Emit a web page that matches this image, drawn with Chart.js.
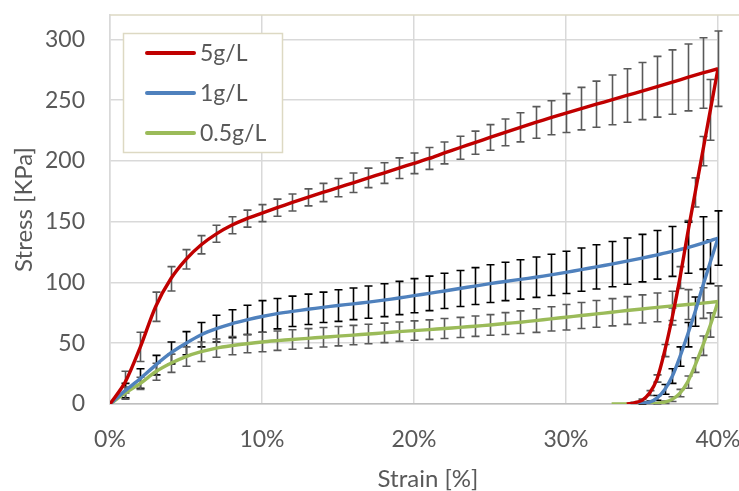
<!DOCTYPE html>
<html>
<head>
<meta charset="utf-8">
<script src="https://cdn.jsdelivr.net/npm/chart.js@4.4.1/dist/chart.umd.min.js"></script>
<style>
  html, body { margin: 0; padding: 0; background: #fff; overflow: hidden; }
  canvas { display: block; }
</style>
</head>
<body>
<canvas id="chart" width="739" height="491"></canvas>
<script>
// loading curve, one point per 1% strain
const strainLoad = [0, 1, 2, 3, 4, 5, 6, 7, 8, 9, 10, 11, 12, 13, 14, 15, 16, 17, 18, 19, 20,
  21, 22, 23, 24, 25, 26, 27, 28, 29, 30, 31, 32, 33, 34, 35, 36, 37, 38, 39, 40];

const load5 = [0, 18, 47, 80, 103, 119, 131, 140, 147, 152.5, 157, 161.5, 165.8, 170, 174, 178, 182, 186, 190, 194, 198,
  202, 206.5, 210.8, 215, 219.3, 223.5, 227.6, 231.6, 235.5, 239.3, 243, 246.6, 250.2, 253.8, 257.4, 261, 264.8, 268.6, 272.3, 275.8];
const loadErr5 = [0, 9, 12, 12, 10, 8, 7.5, 7, 7, 7, 7, 7, 7, 7, 7.5, 7.5, 8, 8, 8.5, 8.5, 8.5,
  9, 9, 9.5, 9.5, 10.5, 11, 12, 13, 14, 16, 17.5, 19, 20.5, 22, 23.5, 25, 26.5, 27.5, 29, 31];

const load1 = [0, 11, 21, 32, 42, 50, 57, 62, 66, 69.2, 72, 74.3, 76.2, 77.9, 79.5, 81, 82.4, 83.8, 85.4, 87.2, 89.1,
  91, 93, 95, 97, 99, 100.8, 102.5, 104.3, 106.2, 108.3, 110.5, 112.8, 115.1, 117.5, 120, 122.7, 125.5, 128.6, 132.3, 136.5];
const loadErr1 = [0, 6, 8, 8, 9, 9.5, 10, 11, 11.5, 12, 13, 12.5, 12.5, 12.5, 12.5, 13, 13, 13.3, 13.5, 13.7, 14,
  14.2, 14.5, 14.8, 15.2, 15.5, 15.8, 16.2, 16.6, 17, 17.4, 17.8, 18.2, 18.6, 19, 19.5, 20, 20.5, 21, 21.7, 22.4];

const load05 = [0, 9, 17, 26.5, 33.5, 39, 43, 46, 48, 49.6, 51, 52.1, 53.1, 54, 54.9, 55.8, 56.7, 57.6, 58.5, 59.5, 60.4,
  61.2, 62.1, 63, 64, 65, 66.2, 67.3, 68.6, 70, 71.4, 72.8, 74.1, 75.5, 76.9, 78.2, 79.5, 80.7, 81.8, 83, 84.3];
const loadErr05 = [0, 5, 5, 7, 7.5, 8, 8, 7.5, 7.5, 7.5, 8, 8, 8, 8, 8, 8, 8, 8, 8, 8, 8,
  8, 8.2, 8.3, 8.4, 8.5, 9, 9.3, 9.7, 10, 10.5, 10.7, 11, 11.2, 11.4, 11.6, 11.8, 12, 12.3, 12.6, 12.9];

// unloading curves (listed by increasing strain)
const strainUnload5 = [34, 34.5, 35, 35.5, 36, 36.5, 37, 37.5, 38, 38.5, 39, 39.5, 40];
const unload5 = [0, 1, 3, 9, 21, 44, 72, 104, 140, 174, 208, 242, 275.8];
const unloadErr5 = [0, 0.5, 1, 2, 3, 5, 7, 9, 11, 12, 12, 25, 0];

const strainUnload1 = [34.5, 35, 35.5, 36, 36.5, 37, 37.5, 38, 38.5, 39, 39.5, 40];
const unload1 = [0, 0.5, 1.5, 5, 12, 23, 39, 57, 76, 97, 117, 136.5];
const unloadErr1 = [0, 0.5, 1, 2, 4, 6, 8, 10, 12, 14, 18, 0];

const strainUnload05 = [33, 33.5, 34, 34.5, 35, 35.5, 36, 36.5, 37, 37.5, 38, 38.5, 39, 39.5, 40];
const unload05 = [0, 0, 0, 0, 0, 0, 0.5, 1.5, 4, 9, 18, 32, 48, 65, 84.3];
const unloadErr05 = [0, 0, 0, 0, 0, 0, 0.5, 1, 2, 3, 5, 6, 8, 10, 0];

const seriesNames = ['5g/L', '1g/L', '0.5g/L'];
const seriesColors = ['#C00000', '#4F81BD', '#9BBB59'];
const errColors = ['#595959', '#000000', '#595959'];

const yTicks = [0, 50, 100, 150, 200, 250, 300];
const xTitle = 'Strain [%]';
const yTitle = 'Stress [KPa]';

function pts(xs, ys) {
  return xs.map((x, i) => ({ x: x, y: ys[i] }));
}

function makeSet(idx, xs, ys, errs) {
  return {
    label: seriesNames[idx],
    data: pts(xs, ys),
    errors: errs,
    errColor: errColors[idx],
    borderColor: seriesColors[idx],
    backgroundColor: seriesColors[idx],
    borderWidth: 3.4,
    pointRadius: 0,
    fill: false,
    tension: 0.3,
  };
}

const textColor = '#595959';
const fontFamily = 'Lato, "Open Sans", sans-serif';

// error bars drawn under the curves
const errorBars = {
  id: 'errorBars',
  beforeDatasetsDraw(chart) {
    const ctx = chart.ctx;
    const xs = chart.scales.x;
    const ys = chart.scales.y;
    ctx.save();
    chart.data.datasets.forEach((ds) => {
      if (!ds.errors) return;
      ctx.strokeStyle = ds.errColor;
      ctx.lineWidth = 1.6;
      ds.data.forEach((p, i) => {
        const e = ds.errors[i];
        if (!e) return;
        const px = Math.round(xs.getPixelForValue(p.x)) + 0.5;
        const top = ys.getPixelForValue(p.y + e);
        const bot = ys.getPixelForValue(p.y - e);
        ctx.beginPath();
        ctx.moveTo(px, top);
        ctx.lineTo(px, bot);
        ctx.moveTo(px - 4, top);
        ctx.lineTo(px + 4, top);
        ctx.moveTo(px - 4, bot);
        ctx.lineTo(px + 4, bot);
        ctx.stroke();
      });
    });
    ctx.restore();
  },
};

// top border of the plot, x title and the legend box
const frameAndLegend = {
  id: 'frameAndLegend',
  beforeDatasetsDraw(chart) {
    const ctx = chart.ctx;
    const a = chart.chartArea;
    ctx.save();
    ctx.strokeStyle = '#DDD9C3';
    ctx.lineWidth = 1.5;
    ctx.beginPath();
    ctx.moveTo(a.left, a.top);
    ctx.lineTo(chart.width, a.top);
    ctx.stroke();
    ctx.restore();
  },
  afterDraw(chart) {
    const ctx = chart.ctx;
    ctx.save();
    ctx.font = '24px ' + fontFamily;
    ctx.fillStyle = textColor;
    ctx.textAlign = 'center';
    ctx.textBaseline = 'middle';
    ctx.fillText(xTitle, 428, 479);

    ctx.fillStyle = '#ffffff';
    ctx.fillRect(123, 33, 160, 120);
    ctx.strokeStyle = '#DDD9C3';
    ctx.lineWidth = 1.5;
    ctx.strokeRect(123.5, 33.5, 159, 119);
    const rows = [53, 93, 133];
    ctx.font = '23px ' + fontFamily;
    ctx.textAlign = 'left';
    seriesNames.forEach((name, i) => {
      ctx.strokeStyle = seriesColors[i];
      ctx.lineWidth = 4;
      ctx.lineCap = 'round';
      ctx.beginPath();
      ctx.moveTo(147, rows[i]);
      ctx.lineTo(194, rows[i]);
      ctx.stroke();
      ctx.fillStyle = textColor;
      ctx.fillText(name, 200, rows[i] + 1);
    });
    ctx.restore();
  },
};

const ctx = document.getElementById('chart').getContext('2d');
new Chart(ctx, {
  type: 'line',
  data: {
    datasets: [
      makeSet(0, strainLoad, load5, loadErr5),
      makeSet(0, strainUnload5, unload5, unloadErr5),
      makeSet(1, strainLoad, load1, loadErr1),
      makeSet(1, strainUnload1, unload1, unloadErr1),
      makeSet(2, strainLoad, load05, loadErr05),
      makeSet(2, strainUnload05, unload05, unloadErr05),
    ],
  },
  options: {
    responsive: false,
    devicePixelRatio: 1,
    animation: false,
    layout: { padding: { top: 15, right: 21, left: 0, bottom: 0 } },
    plugins: {
      legend: { display: false },
      tooltip: { enabled: false },
    },
    scales: {
      x: {
        type: 'linear',
        min: 0,
        max: 40,
        afterFit: (s) => {
          s.height = 87;
          s.paddingLeft = 0;
          s.paddingRight = 0;
        },
        ticks: {
          stepSize: 10,
          padding: 22,
          maxRotation: 0,
          color: textColor,
          font: { family: fontFamily, size: 23 },
          callback: (v) => v + '%',
        },
        grid: { color: '#D9D9D9', lineWidth: 1.5, drawTicks: false },
        border: { color: '#BFBFBF', width: 1.5 },
        title: { display: false },
      },
      y: {
        min: 0,
        max: 320,
        afterFit: (s) => {
          s.width = 110;
          s.paddingTop = 0;
          s.paddingBottom = 0;
        },
        afterBuildTicks: (s) => {
          s.ticks = yTicks.map((v) => ({ value: v }));
        },
        ticks: {
          padding: 25,
          color: textColor,
          font: { family: fontFamily, size: 23 },
        },
        grid: { color: '#D9D9D9', lineWidth: 1.5, drawTicks: false },
        border: { color: '#D9D9D9', width: 1.5 },
        title: {
          display: true,
          text: yTitle,
          color: textColor,
          font: { family: fontFamily, size: 24 },
          padding: { top: 10, bottom: 0 },
        },
      },
    },
  },
  plugins: [errorBars, frameAndLegend],
});
</script>
</body>
</html>
